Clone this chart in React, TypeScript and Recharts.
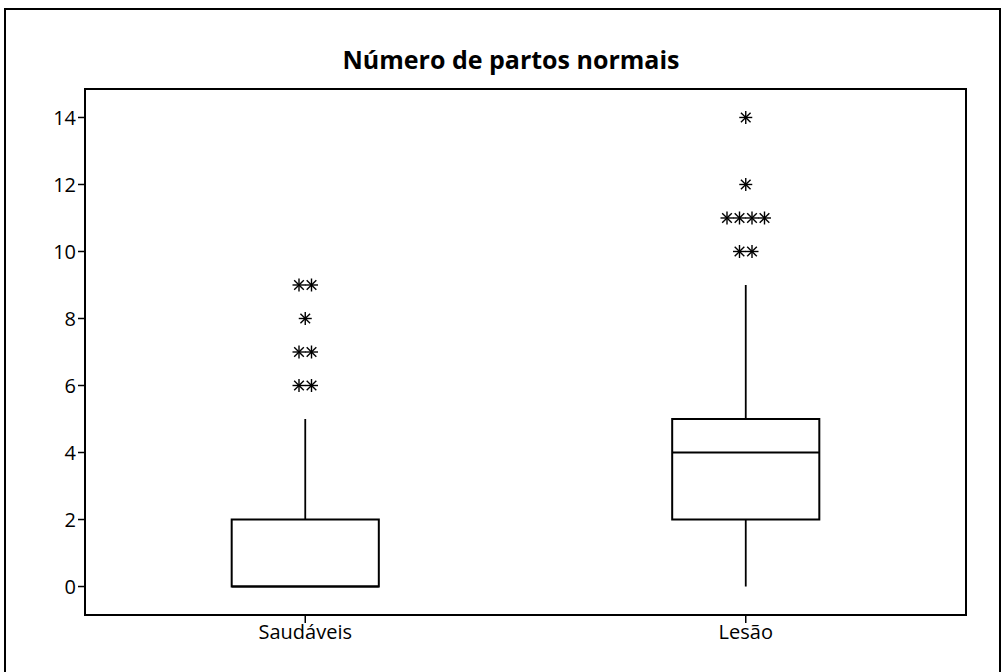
import { ReferenceArea, ReferenceLine, Scatter, ScatterChart, XAxis, YAxis } from "recharts";

const GROUPS = ["Saudáveis", "Lesão"];
const GROUP_X = [1, 2];
const Q1 = [0, 2];
const MEDIAN = [0, 4];
const Q3 = [2, 5];
const WHISKER_LOW = [0, 0];
const WHISKER_HIGH = [5, 9];
const OUTLIERS_SAUDAVEIS = [6, 6, 7, 7, 8, 9, 9];
const OUTLIERS_LESAO = [10, 10, 11, 11, 11, 11, 12, 14];
const Y_TICKS = [0, 2, 4, 6, 8, 10, 12, 14];

const X_DOMAIN: [number, number] = [0.5, 2.5];
const Y_DOMAIN: [number, number] = [-0.85, 14.85];
const BOX_HALF = 0.167;
const FONT = "'Open Sans', 'DejaVu Sans', sans-serif";

// repeated values sit side by side: k = place in the run, n = run length
function toPoints(x: number, values: number[]) {
  return values.map((y, i) => ({
    x,
    y,
    k: i - values.indexOf(y),
    n: values.filter((v) => v === y).length
  }));
}

const outliers = [
  ...toPoints(GROUP_X[0], OUTLIERS_SAUDAVEIS),
  ...toPoints(GROUP_X[1], OUTLIERS_LESAO)
];

function Asterisk(props: any) {
  const { cx, cy, payload } = props;
  if (cx == null || cy == null) return null;
  const x = cx + (payload.k - (payload.n - 1) / 2) * 12.5;
  const r = 6.5;
  const d = 4.8;
  return (
    <g stroke="#000" strokeWidth={1.4}>
      <line x1={x - r} y1={cy} x2={x + r} y2={cy} />
      <line x1={x} y1={cy - r} x2={x} y2={cy + r} />
      <line x1={x - d} y1={cy - d} x2={x + d} y2={cy + d} />
      <line x1={x - d} y1={cy + d} x2={x + d} y2={cy - d} />
    </g>
  );
}

export default function App() {
  const tick = { fill: "#000", fontSize: 20, fontFamily: FONT };
  return (
    <div style={{ position: "absolute", left: 0, top: 0, width: 1005, height: 672, overflow: "hidden", background: "#fff" }}>
      <div style={{ position: "absolute", left: 4, top: 8, width: 993, height: 700, border: "2px solid #000" }} />
      <div
        style={{
          position: "absolute",
          left: 0,
          top: 42,
          width: 1022,
          textAlign: "center",
          fontFamily: FONT,
          fontWeight: 700,
          fontSize: 25,
          color: "#000"
        }}
      >
        Número de partos normais
      </div>
      <div style={{ position: "absolute", left: 0, top: 0 }}>
        <ScatterChart width={1005} height={672} margin={{ top: 89, right: 39, bottom: 0, left: 0 }}>
          <XAxis
            dataKey="x"
            type="number"
            domain={X_DOMAIN}
            allowDataOverflow
            ticks={GROUP_X}
            tickFormatter={(v: number) => GROUPS[GROUP_X.indexOf(v)] ?? ""}
            height={57}
            tick={tick}
            tickSize={8}
            axisLine={{ stroke: "#000", strokeWidth: 2 }}
            tickLine={{ stroke: "#000", strokeWidth: 1.5 }}
          />
          <YAxis
            dataKey="y"
            type="number"
            domain={Y_DOMAIN}
            allowDataOverflow
            ticks={Y_TICKS}
            width={85}
            tick={tick}
            tickSize={7}
            axisLine={{ stroke: "#000", strokeWidth: 2 }}
            tickLine={{ stroke: "#000", strokeWidth: 1.5 }}
          />
          <ReferenceArea
            x1={X_DOMAIN[0]}
            x2={X_DOMAIN[1]}
            y1={Y_DOMAIN[0]}
            y2={Y_DOMAIN[1]}
            fill="none"
            stroke="#000"
            strokeWidth={2}
            ifOverflow="visible"
          />
          {GROUP_X.map((g, i) => (
            <ReferenceLine
              key={`wl-${g}`}
              segment={[{ x: g, y: WHISKER_LOW[i] }, { x: g, y: Q1[i] }]}
              stroke="#000"
              strokeWidth={1.8}
            />
          ))}
          {GROUP_X.map((g, i) => (
            <ReferenceLine
              key={`wh-${g}`}
              segment={[{ x: g, y: Q3[i] }, { x: g, y: WHISKER_HIGH[i] }]}
              stroke="#000"
              strokeWidth={1.8}
            />
          ))}
          {GROUP_X.map((g, i) => (
            <ReferenceArea
              key={`box-${g}`}
              x1={g - BOX_HALF}
              x2={g + BOX_HALF}
              y1={Q1[i]}
              y2={Q3[i]}
              fill="none"
              stroke="#000"
              strokeWidth={2}
              ifOverflow="visible"
            />
          ))}
          {GROUP_X.map((g, i) => (
            <ReferenceLine
              key={`med-${g}`}
              segment={[{ x: g - BOX_HALF, y: MEDIAN[i] }, { x: g + BOX_HALF, y: MEDIAN[i] }]}
              stroke="#000"
              strokeWidth={1.8}
            />
          ))}
          <Scatter data={outliers} shape={Asterisk} isAnimationActive={false} />
        </ScatterChart>
      </div>
    </div>
  );
}
